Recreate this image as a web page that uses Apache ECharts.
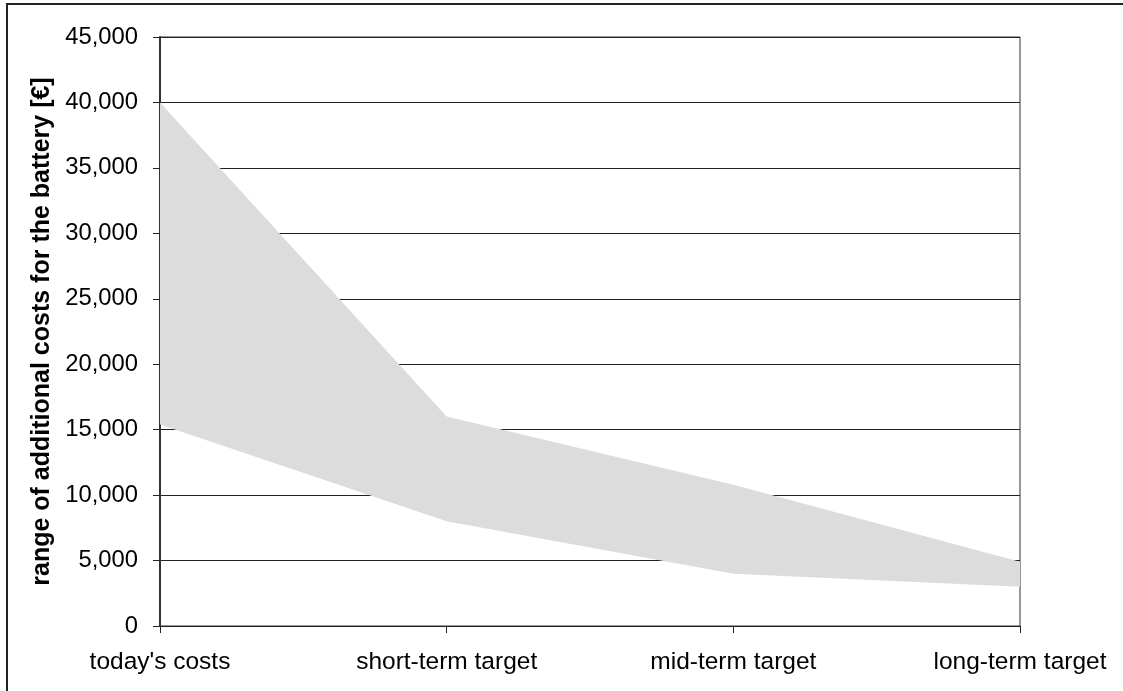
<!DOCTYPE html>
<html>
<head>
<meta charset="utf-8">
<script src="https://cdn.jsdelivr.net/npm/echarts@6/dist/echarts.min.js"></script>
<style>html,body{margin:0;padding:0;background:#fff;}#c{width:1123px;height:691px;}</style>
</head>
<body>
<div id="c"></div>
<script>
const categories = ["today's costs", "short-term target", "mid-term target", "long-term target"];
const lowerValues = [15400, 8000, 4000, 3000];
const upperValues = [40000, 16000, 10800, 4900];
const yTicks = [0, 5000, 10000, 15000, 20000, 25000, 30000, 35000, 40000, 45000];
const yTitle = 'range of additional costs for the battery [€]';

const rangeValues = upperValues.map((u, i) => u - lowerValues[i]);
const font = 'Liberation Sans, Arial, sans-serif';
const chart = echarts.init(document.getElementById('c'));
chart.setOption({
  animation: false,
  backgroundColor: '#fff',
  graphic: [{
    type: 'rect', silent: true,
    shape: { x: 7, y: 4, width: 1300, height: 900 },
    style: { fill: 'none', stroke: '#222', lineWidth: 2 }
  }],
  grid: { left: 160, right: 103, top: 37, bottom: 65, show: true, borderColor: '#333', borderWidth: 1, backgroundColor: 'transparent' },
  xAxis: {
    type: 'category', data: categories, boundaryGap: false,
    axisLine: { lineStyle: { color: '#222', width: 1 } },
    axisTick: { show: true, length: 7, lineStyle: { color: '#222' } },
    axisLabel: { color: '#000', fontSize: 24.5, fontFamily: font, margin: 24, interval: 0 },
    splitLine: { show: false }
  },
  yAxis: {
    type: 'value', min: yTicks[0], max: yTicks[yTicks.length - 1], interval: 5000,
    name: yTitle, nameLocation: 'middle', nameGap: 105,
    nameTextStyle: { color: '#000', fontSize: 25, fontWeight: 'bold', fontFamily: font },
    axisLine: { show: true, lineStyle: { color: '#333', width: 2 } },
    axisTick: { show: true, length: 7, lineStyle: { color: '#222' } },
    axisLabel: { color: '#000', fontSize: 23.8, fontFamily: font, margin: 22,
      formatter: v => v.toLocaleString('en-US') },
    splitLine: { show: true, lineStyle: { color: '#222', width: 1 } }
  },
  series: [
    { type: 'line', stack: 'r', data: lowerValues, symbol: 'none', lineStyle: { width: 0 }, silent: true },
    { type: 'line', stack: 'r', data: rangeValues, symbol: 'none', lineStyle: { width: 0 },
      areaStyle: { color: '#dcdcdc', opacity: 1 }, silent: true }
  ]
});
</script>
</body>
</html>
